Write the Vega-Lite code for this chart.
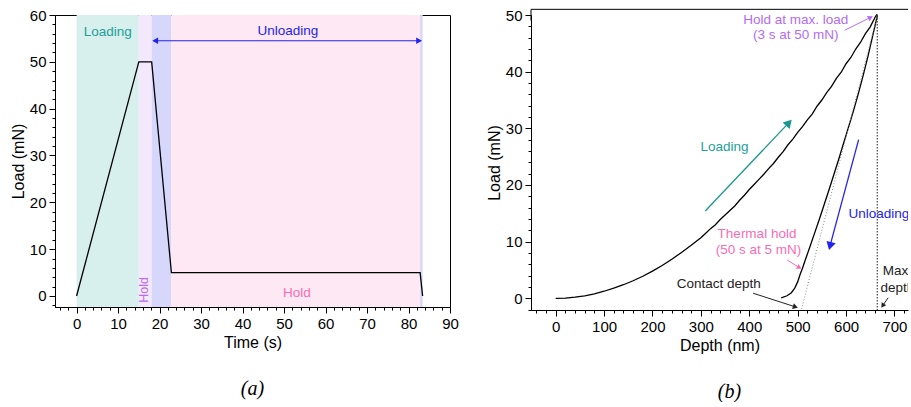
{
"$schema": "https://vega.github.io/schema/vega-lite/v6.json",
"padding": {"left": 9, "top": 7, "right": 0, "bottom": 0},
"spacing": 27,
"config": {
  "font": "Liberation Sans",
  "view": {"stroke": "black", "strokeWidth": 1},
  "axis": {"grid": false, "domainColor": "black", "tickColor": "black", "labelColor": "black", "titleColor": "black", "labelFont": "Liberation Sans", "titleFont": "Liberation Sans", "labelFontSize": 15, "titleFontSize": 16, "titleFontWeight": "normal", "labelOverlap": false, "labelFlush": false, "tickWidth": 1, "domainWidth": 1, "labelPadding": 3, "titlePadding": 3},
  "title": {"font": "Liberation Serif", "fontStyle": "italic", "fontSize": 20, "fontWeight": "normal", "color": "black", "orient": "bottom", "offset": 29}
},
"datasets": {
  "timeLoad": [{"time":0,"load":0},{"time":15,"load":50},{"time":18.1,"load":50},{"time":22.85,"load":5},{"time":82.8,"load":5},{"time":83.4,"load":0}],
  "bands": [{"phase":"loading","start":0,"end":15},{"phase":"hold","start":15,"end":18.1},{"phase":"unloading","start":18.1,"end":22.85},{"phase":"thermal","start":22.85,"end":82.8},{"phase":"final","start":82.8,"end":83.4}],
  "leftText": [{"kind":"loading","time":7.5,"load":56.4,"text":"Loading"},{"kind":"unloading","time":50.9,"load":56.6,"text":"Unloading"},{"kind":"thermal","time":53.1,"load":0.6,"text":"Hold"},{"kind":"hold","time":16.3,"load":1.3,"text":"Hold"}],
  "leftArrow": [{"t1":18.6,"t2":82.9,"load":54.5}],
  "leftHeads": [{"side":"left","time":18.95,"load":54.5},{"side":"right","time":82.55,"load":54.5}],
  "loadingCurve": [
    {"depth":0,"load":0},{"depth":20,"load":0.05},{"depth":40,"load":0.2},{"depth":60,"load":0.45},{"depth":80,"load":0.8},{"depth":100,"load":1.25},{"depth":120,"load":1.8},{"depth":140,"load":2.4},{"depth":160,"load":3.1},{"depth":180,"load":3.9},{"depth":200,"load":4.8},{"depth":220,"load":5.8},{"depth":240,"load":6.9},{"depth":260,"load":8.1},{"depth":280,"load":9.35},{"depth":300,"load":10.7},{"depth":310,"load":11.5},{"depth":320,"load":12.3},{"depth":330,"load":13.0},{"depth":340,"load":13.9},{"depth":350,"load":14.7},{"depth":360,"load":15.5},{"depth":370,"load":16.3},{"depth":380,"load":17.3},{"depth":390,"load":18.2},{"depth":400,"load":19.2},{"depth":410,"load":20.1},{"depth":420,"load":21.0},{"depth":430,"load":21.9},{"depth":440,"load":22.9},{"depth":450,"load":23.8},{"depth":460,"load":24.9},{"depth":470,"load":25.9},{"depth":480,"load":27.1},{"depth":490,"load":28.1},{"depth":500,"load":29.3},{"depth":510,"load":30.3},{"depth":520,"load":31.5},{"depth":530,"load":32.5},{"depth":540,"load":33.9},{"depth":550,"load":35.0},{"depth":560,"load":36.3},{"depth":570,"load":37.4},{"depth":580,"load":38.8},{"depth":590,"load":39.9},{"depth":600,"load":41.4},{"depth":610,"load":42.5},{"depth":620,"load":44.0},{"depth":630,"load":45.2},{"depth":640,"load":46.7},{"depth":650,"load":47.9},{"depth":660,"load":49.6},{"depth":663,"load":50},{"depth":665,"load":50}
  ],
  "unloadingCurve": [
    {"depth":665,"load":50},{"depth":655,"load":46.3},{"depth":645,"load":42.6},{"depth":635,"load":39.2},{"depth":625,"load":36.0},{"depth":615,"load":33.0},{"depth":605,"load":30.2},{"depth":595,"load":27.4},{"depth":585,"load":24.6},{"depth":575,"load":21.9},{"depth":565,"load":19.2},{"depth":555,"load":16.6},{"depth":545,"load":14.0},{"depth":535,"load":11.5},{"depth":525,"load":9.0},{"depth":515,"load":6.6},{"depth":510,"load":5.3},{"depth":505,"load":4.2},{"depth":500,"load":2.9},{"depth":494,"load":1.8},{"depth":487,"load":1.0},{"depth":478,"load":0.45},{"depth":466,"load":0.1}
  ],
  "tangent": [{"d1":508,"l1":-1.9,"d2":665,"l2":50}],
  "maxDepth": [{"depth":664.5,"l1":50,"l2":-2.06}],
  "topBorder": [{"d1":-51,"d2":728,"load":51.0}],
  "leftBorder": [{"depth":-51,"l1":49,"l2":51.0}],
  "rightText": [
    {"kind":"hold","depth":496,"load":49.1,"text":"Hold at max. load"},
    {"kind":"hold","depth":496,"load":46.4,"text":"(3 s at 50 mN)"},
    {"kind":"loading","depth":349,"load":26.7,"text":"Loading"},
    {"kind":"thermal","depth":416,"load":11.4,"text":"Thermal hold"},
    {"kind":"thermal","depth":419,"load":8.5,"text":"(50 s at 5 mN)"},
    {"kind":"contact","depth":337,"load":2.6,"text":"Contact depth"},
    {"kind":"unloading","depth":605,"load":14.9,"text":"Unloading"},
    {"kind":"max","depth":676,"load":4.8,"text":"Max"},
    {"kind":"max","depth":671,"load":1.9,"text":"depth"}
  ],
  "shafts": [
    {"kind":"hold","d1":597,"l1":47.3,"d2":651,"l2":49.6},
    {"kind":"loading","d1":309,"l1":15.4,"d2":482,"l2":31.0},
    {"kind":"unloading","d1":626,"l1":28,"d2":567,"l2":9.3},
    {"kind":"thermal","d1":478.5,"l1":6.75,"d2":503,"l2":5.45},
    {"kind":"contact","d1":408,"l1":0.9,"d2":495,"l2":-1.5},
    {"kind":"max","d1":687,"l1":0.1,"d2":676,"l2":-1.25}
  ],
  "heads": [
    {"kind":"hold","depth":649,"load":49.5},
    {"kind":"loading","depth":480,"load":30.8},
    {"kind":"unloading","depth":567.7,"load":9.45},
    {"kind":"thermal","depth":502,"load":5.5},
    {"kind":"contact","depth":493.7,"load":-1.46},
    {"kind":"max","depth":676.5,"load":-1.2}
  ]
},
"hconcat": [
 {
  "width": 395, "height": 292,
  "title": {"text": "(a)"},
  "layer": [
   {"data": {"name": "bands"}, "mark": {"type": "rect"},
    "encoding": {
      "x": {"field": "start", "type": "quantitative", "scale": {"domain": [-5.2, 90], "nice": false, "zero": false}, "title": "Time (s)",
        "axis": {"values": [-4,-2,0,2,4,6,8,10,12,14,16,18,20,22,24,26,28,30,32,34,36,38,40,42,44,46,48,50,52,54,56,58,60,62,64,66,68,70,72,74,76,78,80,82,84,86,88,90],
          "format": "d", "tickCount": 500, "labelOverlap": false, "labelFlush": false,
          "labelExpr": "datum.value % 10 === 0 ? datum.label : ''",
          "tickSize": {"condition": {"test": "datum.value % 10 === 0", "value": 6}, "value": 3}}},
      "x2": {"field": "end"},
      "color": {"field": "phase", "type": "nominal", "scale": {"domain": ["loading","hold","unloading","thermal","final"], "range": ["#d7efed","#f4e8fc","#d7d7fb","#fde8f3","#d7d7fb"]}, "legend": null}
    }},
   {"data": {"name": "timeLoad"}, "mark": {"type": "line", "color": "black", "strokeWidth": 1.3},
    "encoding": {
      "x": {"field": "time", "type": "quantitative"},
      "y": {"field": "load", "type": "quantitative", "scale": {"domain": [-2.35, 60], "nice": false, "zero": false}, "title": "Load (mN)",
        "axis": {"values": [-2,0,2,4,6,8,10,12,14,16,18,20,22,24,26,28,30,32,34,36,38,40,42,44,46,48,50,52,54,56,58,60],
          "format": "d", "tickCount": 500, "labelOverlap": false,
          "labelExpr": "datum.value % 10 === 0 ? datum.label : ''",
          "tickSize": {"condition": {"test": "datum.value % 10 === 0", "value": 6}, "value": 3}}}
    }},
   {"data": {"name": "leftArrow"}, "mark": {"type": "rule", "color": "#2323f0", "strokeWidth": 1.2},
    "encoding": {"x": {"field": "t1", "type": "quantitative"}, "x2": {"field": "t2"}, "y": {"field": "load", "type": "quantitative"}}},
   {"data": {"name": "leftHeads"}, "transform": [{"filter": "datum.side === 'left'"}], "mark": {"type": "point", "shape": "triangle-left", "filled": true, "color": "#2323f0", "size": 45, "opacity": 1},
    "encoding": {"x": {"field": "time", "type": "quantitative"}, "y": {"field": "load", "type": "quantitative"}}},
   {"data": {"name": "leftHeads"}, "transform": [{"filter": "datum.side === 'right'"}], "mark": {"type": "point", "shape": "triangle-right", "filled": true, "color": "#2323f0", "size": 45, "opacity": 1},
    "encoding": {"x": {"field": "time", "type": "quantitative"}, "y": {"field": "load", "type": "quantitative"}}},
   {"data": {"name": "leftText"}, "transform": [{"filter": "datum.kind === 'loading'"}], "mark": {"type": "text", "color": "#22a098", "fontSize": 13.5},
    "encoding": {"x": {"field": "time", "type": "quantitative"}, "y": {"field": "load", "type": "quantitative"}, "text": {"field": "text"}}},
   {"data": {"name": "leftText"}, "transform": [{"filter": "datum.kind === 'unloading'"}], "mark": {"type": "text", "color": "#2323f0", "fontSize": 13.5},
    "encoding": {"x": {"field": "time", "type": "quantitative"}, "y": {"field": "load", "type": "quantitative"}, "text": {"field": "text"}}},
   {"data": {"name": "leftText"}, "transform": [{"filter": "datum.kind === 'thermal'"}], "mark": {"type": "text", "color": "#f76db5", "fontSize": 13.5},
    "encoding": {"x": {"field": "time", "type": "quantitative"}, "y": {"field": "load", "type": "quantitative"}, "text": {"field": "text"}}},
   {"data": {"name": "leftText"}, "transform": [{"filter": "datum.kind === 'hold'"}], "mark": {"type": "text", "color": "#b96cf2", "fontSize": 12.5, "angle": 270},
    "encoding": {"x": {"field": "time", "type": "quantitative"}, "y": {"field": "load", "type": "quantitative"}, "text": {"field": "text"}}}
  ]
 },
 {
  "width": 377, "height": 295,
  "view": {"stroke": null},
  "title": {"text": "(b)", "dx": 10},
  "layer": [
   {"data": {"name": "loadingCurve"}, "mark": {"type": "line", "color": "black", "strokeWidth": 1.3},
    "encoding": {
      "x": {"field": "depth", "type": "quantitative", "scale": {"domain": [-51, 728], "nice": false, "zero": false}, "title": "Depth (nm)",
        "axis": {"values": [-40,-20,0,20,40,60,80,100,120,140,160,180,200,220,240,260,280,300,320,340,360,380,400,420,440,460,480,500,520,540,560,580,600,620,640,660,680,700,720],
          "format": "d", "tickCount": 500, "labelOverlap": false, "labelFlush": false,
          "labelExpr": "datum.value % 100 === 0 ? datum.label : ''",
          "tickSize": {"condition": {"test": "datum.value % 100 === 0", "value": 6}, "value": 3}}},
      "y": {"field": "load", "type": "quantitative", "scale": {"domain": [-2.06, 50], "nice": false, "zero": false}, "title": "Load (mN)",
        "axis": {"values": [-2,0,2,4,6,8,10,12,14,16,18,20,22,24,26,28,30,32,34,36,38,40,42,44,46,48,50],
          "format": "d", "tickCount": 500, "labelOverlap": false,
          "labelExpr": "datum.value % 10 === 0 ? datum.label : ''",
          "tickSize": {"condition": {"test": "datum.value % 10 === 0", "value": 6}, "value": 3}}}
    }},
   {"data": {"name": "unloadingCurve"}, "mark": {"type": "line", "color": "black", "strokeWidth": 1.3},
    "encoding": {"x": {"field": "depth", "type": "quantitative"}, "y": {"field": "load", "type": "quantitative"}}},
   {"data": {"name": "tangent"}, "mark": {"type": "rule", "color": "#8a8a8a", "strokeWidth": 1, "strokeDash": [1, 2]},
    "encoding": {"x": {"field": "d1", "type": "quantitative"}, "y": {"field": "l1", "type": "quantitative"}, "x2": {"field": "d2"}, "y2": {"field": "l2"}}},
   {"data": {"name": "maxDepth"}, "mark": {"type": "rule", "color": "#444444", "strokeWidth": 1.2, "strokeDash": [1.5, 1.5]},
    "encoding": {"x": {"field": "depth", "type": "quantitative"}, "y": {"field": "l1", "type": "quantitative"}, "y2": {"field": "l2"}}},
   {"data": {"name": "topBorder"}, "mark": {"type": "rule", "color": "black", "strokeWidth": 1},
    "encoding": {"x": {"field": "d1", "type": "quantitative"}, "x2": {"field": "d2"}, "y": {"field": "load", "type": "quantitative"}}},
   {"data": {"name": "leftBorder"}, "mark": {"type": "rule", "color": "black", "strokeWidth": 1},
    "encoding": {"x": {"field": "depth", "type": "quantitative"}, "y": {"field": "l1", "type": "quantitative"}, "y2": {"field": "l2"}}},
   {"data": {"name": "shafts"}, "transform": [{"filter": "datum.kind === 'hold'"}], "mark": {"type": "rule", "color": "#b36cf5", "strokeWidth": 1},
    "encoding": {"x": {"field": "d1", "type": "quantitative"}, "y": {"field": "l1", "type": "quantitative"}, "x2": {"field": "d2"}, "y2": {"field": "l2"}}},
   {"data": {"name": "shafts"}, "transform": [{"filter": "datum.kind === 'loading'"}], "mark": {"type": "rule", "color": "#1a9690", "strokeWidth": 1.3},
    "encoding": {"x": {"field": "d1", "type": "quantitative"}, "y": {"field": "l1", "type": "quantitative"}, "x2": {"field": "d2"}, "y2": {"field": "l2"}}},
   {"data": {"name": "shafts"}, "transform": [{"filter": "datum.kind === 'unloading'"}], "mark": {"type": "rule", "color": "#2323f0", "strokeWidth": 1.3},
    "encoding": {"x": {"field": "d1", "type": "quantitative"}, "y": {"field": "l1", "type": "quantitative"}, "x2": {"field": "d2"}, "y2": {"field": "l2"}}},
   {"data": {"name": "shafts"}, "transform": [{"filter": "datum.kind === 'thermal'"}], "mark": {"type": "rule", "color": "#f76db5", "strokeWidth": 1},
    "encoding": {"x": {"field": "d1", "type": "quantitative"}, "y": {"field": "l1", "type": "quantitative"}, "x2": {"field": "d2"}, "y2": {"field": "l2"}}},
   {"data": {"name": "shafts"}, "transform": [{"filter": "datum.kind === 'contact' || datum.kind === 'max'"}], "mark": {"type": "rule", "color": "#222222", "strokeWidth": 1},
    "encoding": {"x": {"field": "d1", "type": "quantitative"}, "y": {"field": "l1", "type": "quantitative"}, "x2": {"field": "d2"}, "y2": {"field": "l2"}}},
   {"data": {"name": "heads"}, "transform": [{"filter": "datum.kind === 'hold'"}], "mark": {"type": "point", "shape": "triangle", "angle": 63, "filled": true, "opacity": 1, "color": "#b36cf5", "size": 35},
    "encoding": {"x": {"field": "depth", "type": "quantitative"}, "y": {"field": "load", "type": "quantitative"}}},
   {"data": {"name": "heads"}, "transform": [{"filter": "datum.kind === 'loading'"}], "mark": {"type": "point", "shape": "triangle", "angle": 43, "filled": true, "opacity": 1, "color": "#1a9690", "size": 90},
    "encoding": {"x": {"field": "depth", "type": "quantitative"}, "y": {"field": "load", "type": "quantitative"}}},
   {"data": {"name": "heads"}, "transform": [{"filter": "datum.kind === 'unloading'"}], "mark": {"type": "point", "shape": "triangle", "angle": 195, "filled": true, "opacity": 1, "color": "#2323f0", "size": 90},
    "encoding": {"x": {"field": "depth", "type": "quantitative"}, "y": {"field": "load", "type": "quantitative"}}},
   {"data": {"name": "heads"}, "transform": [{"filter": "datum.kind === 'thermal'"}], "mark": {"type": "point", "shape": "triangle", "angle": 122, "filled": true, "opacity": 1, "color": "#f76db5", "size": 30},
    "encoding": {"x": {"field": "depth", "type": "quantitative"}, "y": {"field": "load", "type": "quantitative"}}},
   {"data": {"name": "heads"}, "transform": [{"filter": "datum.kind === 'contact'"}], "mark": {"type": "point", "shape": "triangle", "angle": 108, "filled": true, "opacity": 1, "color": "#222222", "size": 35},
    "encoding": {"x": {"field": "depth", "type": "quantitative"}, "y": {"field": "load", "type": "quantitative"}}},
   {"data": {"name": "heads"}, "transform": [{"filter": "datum.kind === 'max'"}], "mark": {"type": "point", "shape": "triangle", "angle": 214, "filled": true, "opacity": 1, "color": "#222222", "size": 30},
    "encoding": {"x": {"field": "depth", "type": "quantitative"}, "y": {"field": "load", "type": "quantitative"}}},
   {"data": {"name": "rightText"}, "transform": [{"filter": "datum.kind === 'hold'"}], "mark": {"type": "text", "color": "#b36cf5", "fontSize": 13.5},
    "encoding": {"x": {"field": "depth", "type": "quantitative"}, "y": {"field": "load", "type": "quantitative"}, "text": {"field": "text"}}},
   {"data": {"name": "rightText"}, "transform": [{"filter": "datum.kind === 'loading'"}], "mark": {"type": "text", "color": "#22a098", "fontSize": 13.5},
    "encoding": {"x": {"field": "depth", "type": "quantitative"}, "y": {"field": "load", "type": "quantitative"}, "text": {"field": "text"}}},
   {"data": {"name": "rightText"}, "transform": [{"filter": "datum.kind === 'thermal'"}], "mark": {"type": "text", "color": "#f76db5", "fontSize": 13.5},
    "encoding": {"x": {"field": "depth", "type": "quantitative"}, "y": {"field": "load", "type": "quantitative"}, "text": {"field": "text"}}},
   {"data": {"name": "rightText"}, "transform": [{"filter": "datum.kind === 'contact'"}], "mark": {"type": "text", "color": "#222222", "fontSize": 13.5},
    "encoding": {"x": {"field": "depth", "type": "quantitative"}, "y": {"field": "load", "type": "quantitative"}, "text": {"field": "text"}}},
   {"data": {"name": "rightText"}, "transform": [{"filter": "datum.kind === 'unloading'"}], "mark": {"type": "text", "color": "#2323f0", "fontSize": 13.5, "align": "left", "clip": true},
    "encoding": {"x": {"field": "depth", "type": "quantitative"}, "y": {"field": "load", "type": "quantitative"}, "text": {"field": "text"}}},
   {"data": {"name": "rightText"}, "transform": [{"filter": "datum.kind === 'max'"}], "mark": {"type": "text", "color": "#222222", "fontSize": 13.5, "align": "left", "clip": true},
    "encoding": {"x": {"field": "depth", "type": "quantitative"}, "y": {"field": "load", "type": "quantitative"}, "text": {"field": "text"}}}
  ]
 }
]
}
